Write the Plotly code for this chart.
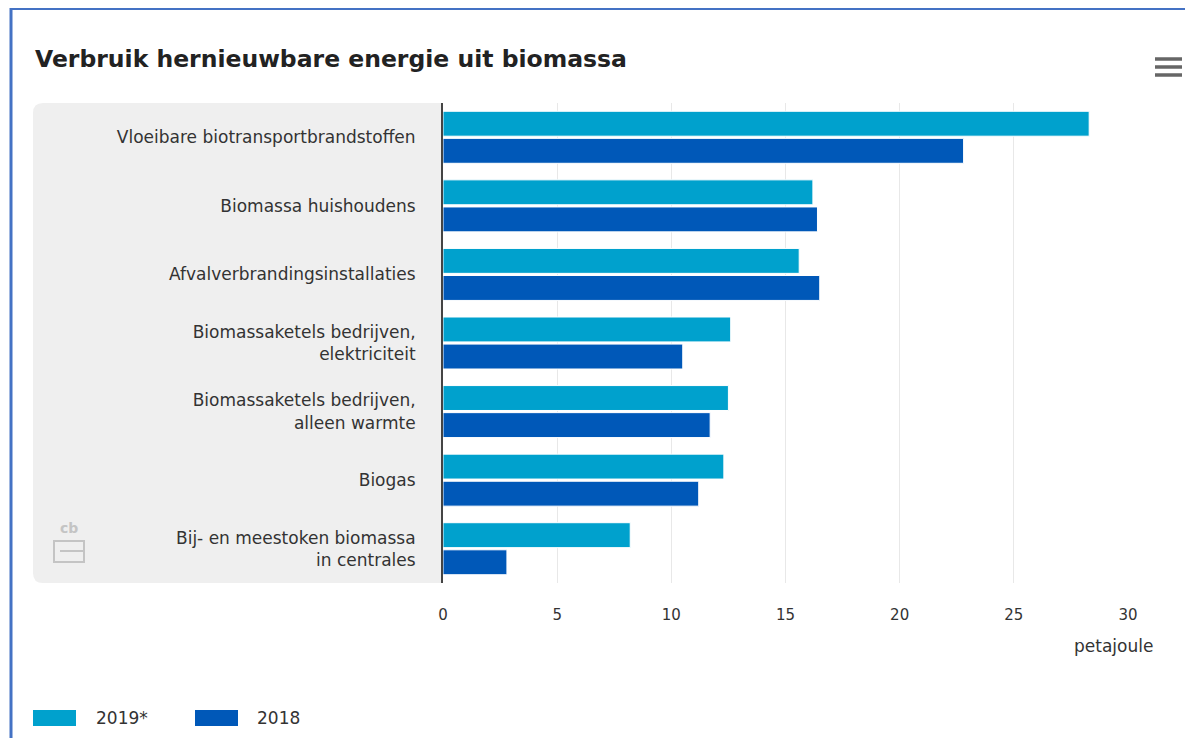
import plotly.graph_objects as go

categories = [
    "Vloeibare biotransportbrandstoffen",
    "Biomassa huishoudens",
    "Afvalverbrandingsinstallaties",
    "Biomassaketels bedrijven,<br>elektriciteit",
    "Biomassaketels bedrijven,<br>alleen warmte",
    "Biogas",
    "Bij- en meestoken biomassa<br>in centrales",
]
values_2019 = [28.3, 16.2, 15.6, 12.6, 12.5, 12.3, 8.2]
values_2018 = [22.8, 16.4, 16.5, 10.5, 11.7, 11.2, 2.8]
series_names = ["2019*", "2018"]
x_ticks = [0, 5, 10, 15, 20, 25, 30]

COL_2019 = "#00a1cd"
COL_2018 = "#0058b8"
OFF = 8  # page body margin
W, H = 1193 - OFF, 738 - OFF
ML = 443 - OFF
MR = W - (1128 - OFF)
MT = 103 - OFF
MB = H - (583 - OFF)
PW, PH = W - ML - MR, H - MT - MB


def px(x):
    return (x - OFF - ML) / PW


def py(y):
    return (H - MB - (y - OFF)) / PH


FONT = "DejaVu Sans"

fig = go.Figure()
for name, vals, col in [(series_names[0], values_2019, COL_2019),
                        (series_names[1], values_2018, COL_2018)]:
    fig.add_trace(go.Bar(
        y=categories, x=vals, orientation="h", name=name,
        marker=dict(color=col, line=dict(color="white", width=1)),
        showlegend=False,
    ))

shapes = []
x0, x1, y0, y1 = px(33), px(443), py(103), py(583)
r, ry = 10 / PW, 10 / PH
shapes.append(dict(
    type="path", xref="paper", yref="paper", layer="below",
    path=(f"M {x1},{y0} L {x0 + r},{y0} Q {x0},{y0} {x0},{y0 - ry} "
          f"L {x0},{y1 + ry} Q {x0},{y1} {x0 + r},{y1} L {x1},{y1} Z"),
    fillcolor="#efefef", line=dict(width=0)))
# blue frame
shapes.append(dict(type="line", xref="paper", yref="paper",
                   x0=px(11), x1=px(11), y0=py(7), y1=py(745),
                   line=dict(color="#4472c4", width=3)))
shapes.append(dict(type="line", xref="paper", yref="paper",
                   x0=px(10), x1=px(1200), y0=py(8.5), y1=py(8.5),
                   line=dict(color="#4472c4", width=3)))
# menu icon
for yy in [59, 67, 75]:
    shapes.append(dict(type="line", xref="paper", yref="paper",
                       x0=px(1155), x1=px(1182), y0=py(yy), y1=py(yy),
                       line=dict(color="#666666", width=3.5)))
# legend swatches
for xs, col in [(33, COL_2019), (195, COL_2018)]:
    shapes.append(dict(type="rect", xref="paper", yref="paper",
                       x0=px(xs), x1=px(xs + 43), y0=py(710), y1=py(726),
                       fillcolor=col, line=dict(width=0)))
# cbs logo approximation
shapes.append(dict(type="rect", xref="paper", yref="paper",
                   x0=px(54), x1=px(84), y0=py(541), y1=py(562),
                   line=dict(color="#c4c4c4", width=2), fillcolor="rgba(0,0,0,0)"))
shapes.append(dict(type="line", xref="paper", yref="paper",
                   x0=px(60), x1=px(84), y0=py(551), y1=py(551),
                   line=dict(color="#c4c4c4", width=2)))

annotations = [
    dict(text="<b>Verbruik hernieuwbare energie uit biomassa</b>",
         xref="paper", yref="paper", x=px(33), y=py(59), xanchor="left",
         yanchor="middle", showarrow=False,
         font=dict(family="DejaVu Sans", size=23.5, color="#222222")),
    dict(text="petajoule", xref="paper", yref="paper", x=px(1113), y=py(646),
         xanchor="center", yanchor="middle", showarrow=False,
         font=dict(family=FONT, size=17, color="#333333")),
    dict(text=series_names[0], xref="paper", yref="paper", x=px(94), y=py(718),
         xanchor="left", yanchor="middle", showarrow=False,
         font=dict(family=FONT, size=17, color="#333333")),
    dict(text=series_names[1], xref="paper", yref="paper", x=px(255), y=py(718),
         xanchor="left", yanchor="middle", showarrow=False,
         font=dict(family=FONT, size=17, color="#333333")),
    dict(text="<b>cb</b>", xref="paper", yref="paper", x=px(69), y=py(528),
         xanchor="center", yanchor="middle", showarrow=False,
         font=dict(family=FONT, size=14, color="#c4c4c4")),
]

fig.update_layout(
    width=W, height=H,
    margin=dict(l=ML, r=MR, t=MT, b=MB, pad=0),
    paper_bgcolor="white", plot_bgcolor="white",
    barmode="group", bargap=0.21, bargroupgap=0.08,
    font=dict(family=FONT, size=14, color="#333333"),
    shapes=shapes, annotations=annotations,
    xaxis=dict(range=[0, 30], tickvals=x_ticks, showgrid=True,
               gridcolor="#e8e8e8", gridwidth=1, zeroline=False,
               ticks="outside", ticklen=0, ticklabelstandoff=18,
               tickfont=dict(size=15, color="#333333"), fixedrange=True),
    yaxis=dict(categoryorder="array", categoryarray=categories,
               autorange="reversed", showline=True, linecolor="#444444",
               linewidth=2, ticks="outside", ticklen=0,
               ticklabelstandoff=22, tickfont=dict(size=17, color="#333333")),
)

fig.write_html("out.html")
